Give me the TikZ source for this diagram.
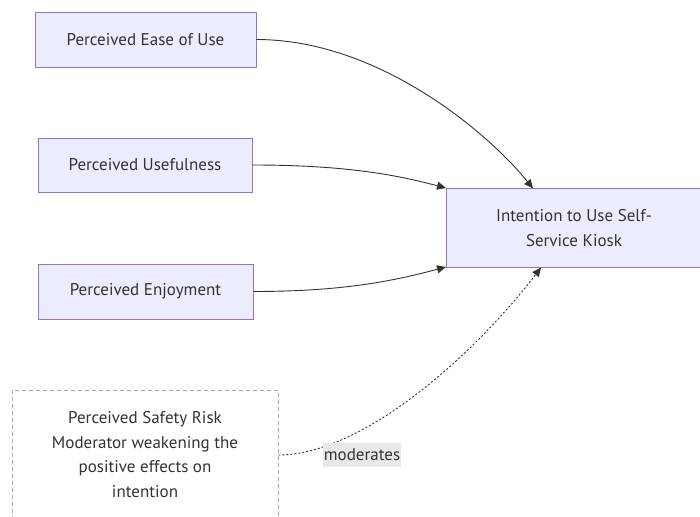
\documentclass[tikz,border=0pt]{standalone}
\usepackage{fontspec}
\setmainfont{PT Sans}
\usetikzlibrary{arrows.meta}
\definecolor{nodefill}{HTML}{ECECFF}
\definecolor{nodeline}{HTML}{9370DB}
\definecolor{edgeline}{HTML}{333333}
\definecolor{txt}{HTML}{333333}
\definecolor{labelbg}{HTML}{E8E8E8}
\definecolor{modline}{HTML}{AAAAAA}
\tikzset{
  boxfont/.style={font=\fontsize{17}{24.6}\selectfont},
  factor/.style={draw=nodeline, fill=nodefill, line width=0.9pt, text=txt,
    boxfont, align=center, inner sep=0pt},
  modbox/.style={draw=modline, fill=white, dash pattern=on 4pt off 3pt,
    line width=0.9pt, inner sep=0pt},
  link/.style={draw=edgeline, line width=0.9pt, -{Triangle[length=9pt,width=8pt]}},
  modlink/.style={draw=edgeline, line width=0.9pt, dash pattern=on 2pt off 2pt,
    -{Triangle[length=9pt,width=8pt]}},
  edgelabel/.style={fill=labelbg, text=txt, font=\fontsize{17}{20}\selectfont,
    inner sep=0pt, minimum width=78pt, minimum height=24pt}
}
\begin{document}
\begin{tikzpicture}[x=1pt,y=-1pt]
  \useasboundingbox (0,0) rectangle (700,516);

  % predictor constructs
  \node[factor, minimum width=221pt, minimum height=55pt] (peou) at (145.5,39.5) {Perceived Ease of Use};
  \node[factor, minimum width=214pt, minimum height=54pt] (pu) at (145,165) {Perceived Usefulness};
  \node[factor, minimum width=215pt, minimum height=55pt] (pe) at (145.5,291.5) {Perceived Enjoyment};

  % outcome construct
  \node[factor, minimum width=256pt, minimum height=79pt] (int) at (574,228)
    {Intention to Use Self-\\Service Kiosk};

  % moderator
  \node[modbox, minimum width=266pt, minimum height=140pt] (risk) at (145,460) {};
  \node[text=txt, boxfont, align=center, inner sep=0pt] (risktext) at (145,454.5)
    {Perceived Safety Risk\\Moderator weakening the\\positive effects on\\intention};

  % anchor points on the outcome box
  \coordinate (inttop) at (533,188.5);
  \coordinate (intleftup) at (446,188);
  \coordinate (intleftdown) at (446,267);
  \coordinate (intbottom) at (541,267.5);

  % direct effects
  \draw[link] (peou.east) .. controls (380,39.5) and (490,135) .. (inttop);
  \draw[link] (pu.east) .. controls (350,165) and (400,176) .. (intleftup);
  \draw[link] (pe.east) .. controls (350,291.5) and (400,279) .. (intleftdown);

  % moderation path, its label drawn over it
  \draw[modlink] (risk.east |- 0,455) .. controls (360,455) and (470,360) .. (intbottom);
  \node[edgelabel] (modlabel) at (362,455) {moderates};
\end{tikzpicture}
\end{document}
